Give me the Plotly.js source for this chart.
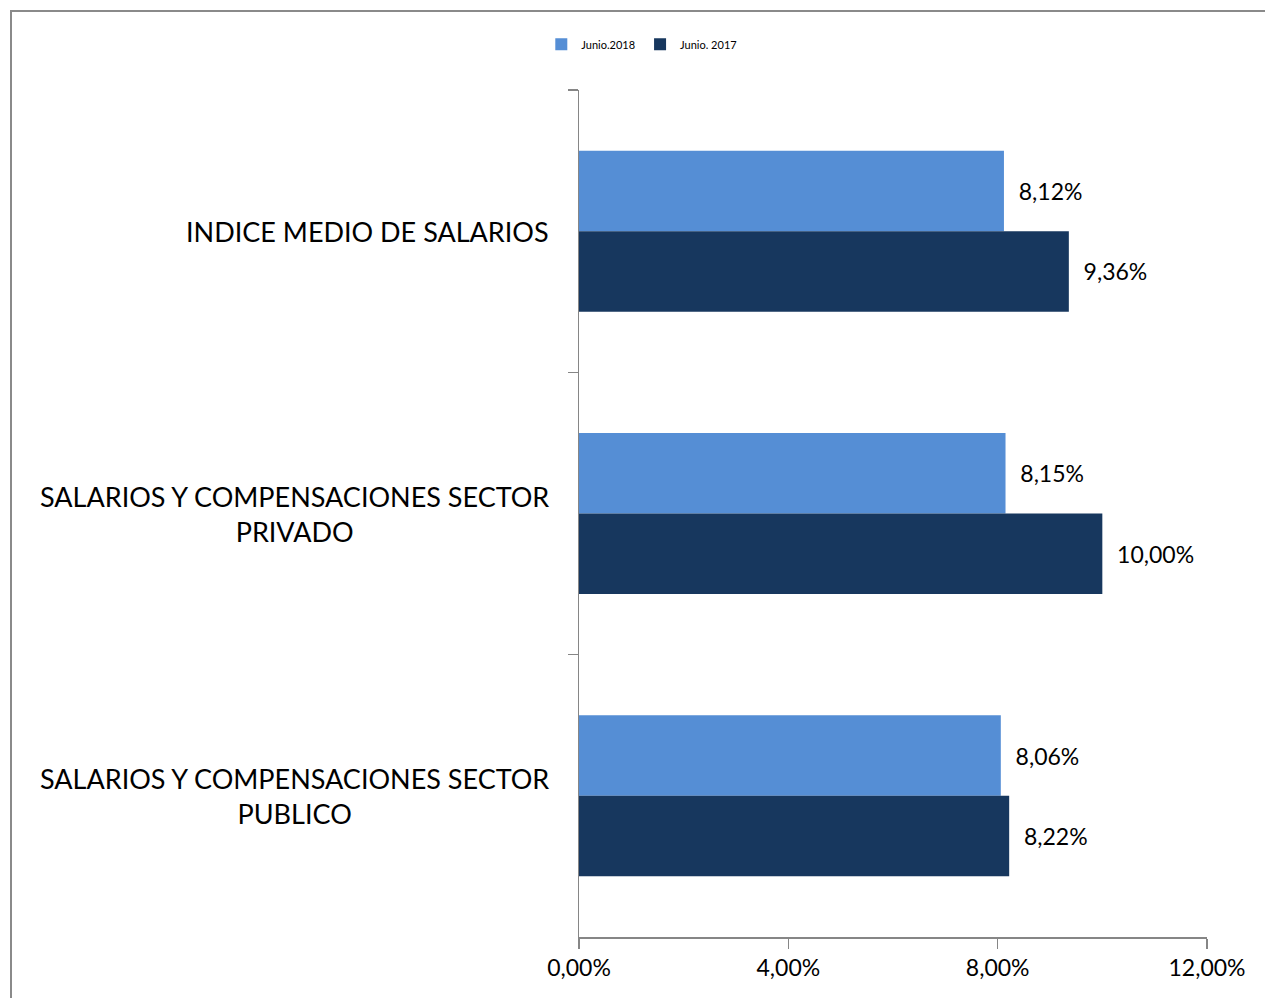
<!DOCTYPE html>
<html>
<head>
<meta charset="utf-8">
<script src="https://cdn.plot.ly/plotly-3.0.1.min.js"></script>
<style>
  html, body { margin: 0; padding: 0; background: #ffffff; overflow: hidden; }
  #frame { position: absolute; left: 10px; top: 10px; width: 1400px; height: 1200px; border: 2px solid #8a8a8a; box-sizing: border-box; }
  #chart { position: absolute; left: 0; top: 0; width: 1265px; height: 998px; }
</style>
</head>
<body>
<div id="frame"></div>
<div id="chart"></div>
<script>
const categories = [
  "INDICE MEDIO DE SALARIOS",
  "SALARIOS Y COMPENSACIONES SECTOR PRIVADO",
  "SALARIOS Y COMPENSACIONES SECTOR PUBLICO"
];
const categoryLabels = [
  "INDICE MEDIO DE SALARIOS",
  "SALARIOS Y COMPENSACIONES SECTOR<br>PRIVADO",
  "SALARIOS Y COMPENSACIONES SECTOR<br>PUBLICO"
];
const seriesNames = ["Junio.2018", "Junio. 2017"];
const junio2018 = [8.12, 8.15, 8.06];
const junio2017 = [9.36, 10.00, 8.22];
const xTickValues = [0, 4, 8, 12];
const xTickLabels = ["0,00%", "4,00%", "8,00%", "12,00%"];

const FONT = "Lato, 'Open Sans', sans-serif";
const colors = ["#558ED5", "#17375E"];

const traces = [junio2018, junio2017].map((vals, i) => ({
  type: "bar",
  orientation: "h",
  name: seriesNames[i],
  y: categories,
  x: vals,
  marker: { color: colors[i], line: { width: 0 } },
  texttemplate: "\u00a0\u00a0%{x:.2f}%",
  textposition: "outside",
  cliponaxis: false,
  textfont: { family: FONT, size: 23, color: "#000000" },
  hoverinfo: "skip"
}));

const annotations = categories.map((c, i) => ({
  xref: "paper", yref: "y",
  x: -0.045, y: c,
  xanchor: "right", yanchor: "middle",
  align: "center",
  text: categoryLabels[i],
  showarrow: false,
  font: { family: FONT, size: 27, color: "#000000" }
}));

const layout = {
  width: 1265, height: 998,
  margin: { l: 579, r: 58, t: 90, b: 61, pad: 0 },
  paper_bgcolor: "rgba(0,0,0,0)",
  plot_bgcolor: "rgba(0,0,0,0)",
  separators: ",.",
  barmode: "group",
  bargap: 0.43,
  bargroupgap: 0,
  showlegend: true,
  legend: {
    orientation: "h",
    x: 0.1, xanchor: "center",
    y: 1.054, yanchor: "middle",
    font: { family: FONT, size: 11, color: "#000000" },
    traceorder: "normal",
    itemwidth: 30,
    bgcolor: "rgba(0,0,0,0)"
  },
  xaxis: {
    range: [0, 12],
    tickmode: "array",
    tickvals: xTickValues,
    ticktext: xTickLabels,
    ticks: "outside",
    ticklen: 10,
    tickwidth: 1.5,
    tickcolor: "#868686",
    showline: true,
    linecolor: "#868686",
    linewidth: 1.5,
    showgrid: false,
    zeroline: false,
    tickfont: { family: FONT, size: 23, color: "#000000" }
  },
  yaxis: {
    type: "category",
    categoryorder: "array",
    categoryarray: categories,
    autorange: "reversed",
    showticklabels: false,
    ticks: "outside",
    tickson: "boundaries",
    ticklen: 10,
    tickwidth: 1.5,
    tickcolor: "#868686",
    showline: true,
    linecolor: "#868686",
    linewidth: 1.5,
    showgrid: false,
    zeroline: false
  },
  annotations: annotations
};

Plotly.newPlot("chart", traces, layout, { displayModeBar: false, staticPlot: true });
</script>
</body>
</html>
